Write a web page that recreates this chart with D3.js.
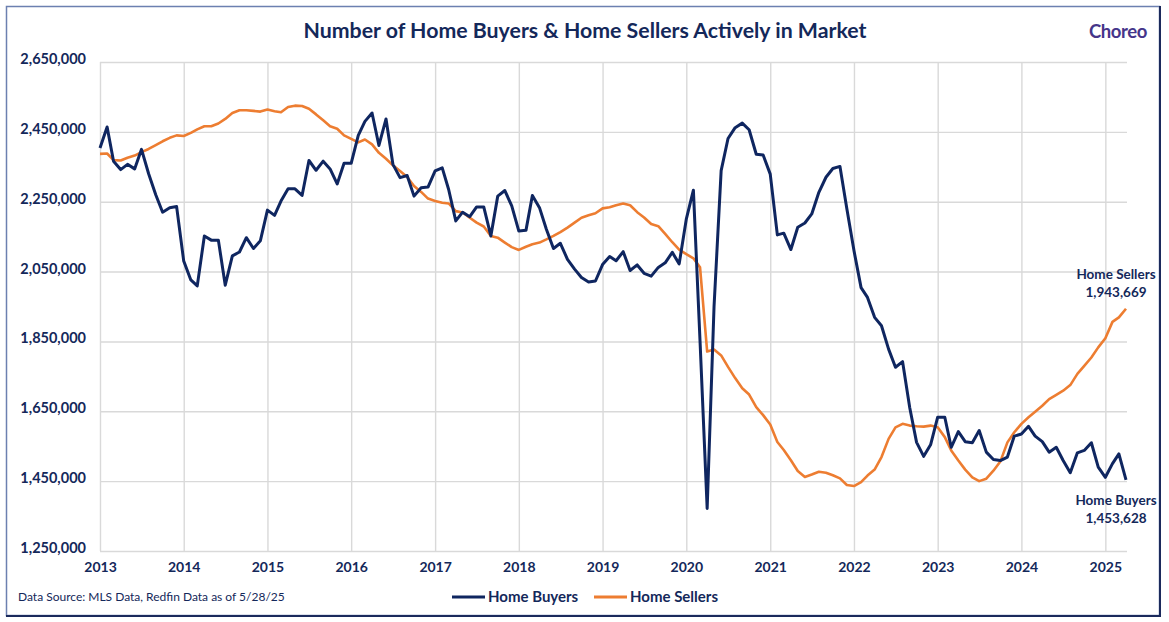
<!DOCTYPE html>
<html>
<head>
<meta charset="utf-8">
<script src="https://cdn.jsdelivr.net/npm/d3@7"></script>
<style>
  html, body { margin: 0; padding: 0; background: #ffffff; }
  svg { display: block; font-family: Lato, "Open Sans", sans-serif; }
</style>
</head>
<body>
<svg id="chart" width="1169" height="622"></svg>
<script>
// ---- Data (monthly, Jan 2013 – Apr 2025) ----
const startMonth = "2013-01";
const endMonth = "2025-04";

const homeBuyers = [
  2404000, 2464000, 2366000, 2342000, 2357000, 2344000, 2400000, 2330000, 2270000, 2220000, 2233000, 2236000,
  2080000, 2026000, 2009000, 2152000, 2140000, 2140000, 2011000, 2095000, 2106000, 2147000, 2116000, 2138000,
  2226000, 2211000, 2252000, 2287000, 2287000, 2268000, 2368000, 2340000, 2366000, 2344000, 2301000, 2360000,
  2360000, 2440000, 2480000, 2504000, 2411000, 2487000, 2357000, 2319000, 2325000, 2266000, 2290000, 2292000,
  2338000, 2347000, 2285000, 2195000, 2220000, 2207000, 2235000, 2235000, 2152000, 2266000, 2282000, 2238000,
  2166000, 2168000, 2268000, 2233000, 2171000, 2116000, 2131000, 2085000, 2057000, 2033000, 2020000, 2023000,
  2070000, 2093000, 2081000, 2107000, 2053000, 2069000, 2045000, 2037000, 2062000, 2075000, 2105000, 2072000,
  2200000, 2283000, 1850000, 1372000, 1950000, 2339000, 2431000, 2462000, 2475000, 2456000, 2386000, 2384000,
  2329000, 2155000, 2160000, 2113000, 2177000, 2189000, 2215000, 2277000, 2320000, 2345000, 2351000, 2230000,
  2110000, 2004000, 1976000, 1919000, 1895000, 1828000, 1776000, 1792000, 1661000, 1561000, 1521000, 1554000,
  1633000, 1633000, 1547000, 1592000, 1563000, 1560000, 1595000, 1533000, 1512000, 1509000, 1519000, 1579000,
  1585000, 1607000, 1579000, 1563000, 1533000, 1547000, 1509000, 1474000, 1531000, 1538000, 1560000, 1490000,
  1461000, 1500000, 1528000, 1453628
];

const homeSellers = [
  2387000, 2388000, 2369000, 2368000, 2376000, 2382000, 2392000, 2401000, 2412000, 2423000, 2433000, 2440000,
  2438000, 2447000, 2457000, 2466000, 2466000, 2474000, 2487000, 2504000, 2512000, 2512000, 2510000, 2508000,
  2514000, 2509000, 2506000, 2521000, 2525000, 2524000, 2516000, 2500000, 2483000, 2466000, 2459000, 2440000,
  2430000, 2420000, 2428000, 2414000, 2390000, 2373000, 2354000, 2338000, 2321000, 2295000, 2278000, 2259000,
  2252000, 2247000, 2245000, 2223000, 2219000, 2204000, 2190000, 2179000, 2152000, 2147000, 2133000, 2120000,
  2112000, 2121000, 2128000, 2133000, 2142000, 2152000, 2163000, 2176000, 2190000, 2204000, 2211000, 2217000,
  2231000, 2234000, 2240000, 2245000, 2240000, 2220000, 2205000, 2186000, 2180000, 2158000, 2134000, 2113000,
  2100000, 2088000, 2062000, 1821000, 1827000, 1810000, 1777000, 1745000, 1716000, 1698000, 1662000, 1639000,
  1612000, 1562000, 1539000, 1510000, 1479000, 1462000, 1469000, 1477000, 1474000, 1467000, 1458000, 1439000,
  1436000, 1447000, 1466000, 1483000, 1519000, 1571000, 1604000, 1614000, 1609000, 1607000, 1606000, 1609000,
  1604000, 1576000, 1538000, 1509000, 1483000, 1461000, 1450000, 1457000, 1480000, 1506000, 1561000, 1590000,
  1614000, 1633000, 1649000, 1666000, 1685000, 1697000, 1709000, 1725000, 1757000, 1780000, 1804000, 1833000,
  1859000, 1906000, 1919000, 1943669
];

const yTickValues = [1250000, 1450000, 1650000, 1850000, 2050000, 2250000, 2450000, 2650000];
const xTickYears = [2013, 2014, 2015, 2016, 2017, 2018, 2019, 2020, 2021, 2022, 2023, 2024, 2025];
const seriesNames = ["Home Buyers", "Home Sellers"];

const titleText = "Number of Home Buyers & Home Sellers Actively in Market";
const sourceText = "Data Source: MLS Data, Redfin Data as of 5/28/25";
const logoText = "Choreo";

// ---- Setup ----
const navy = "#0f2660";
const textNavy = "#14285a";
const orange = "#ed7d31";
const gridColor = "#d9d9d9";

const parseMonth = d3.timeParse("%Y-%m");
const months = d3.timeMonth.range(parseMonth(startMonth), d3.timeMonth.offset(parseMonth(endMonth), 1));

const svg = d3.select("#chart");
const plotLeft = 100, plotRight = 1126, plotTop = 62, plotBottom = 551;

const x = d3.scaleTime().domain([parseMonth(startMonth), parseMonth(endMonth)]).range([plotLeft, plotRight]);
const y = d3.scaleLinear().domain([1250000, 2650000]).range([plotBottom, plotTop]);

// Frame
svg.append("rect").attr("x", 6.5).attr("y", 6.5).attr("width", 1153).attr("height", 609)
  .attr("fill", "#fff").attr("stroke", "#6c80b0").attr("stroke-width", 1.5);
svg.append("line").attr("x1", 1160).attr("x2", 1160).attr("y1", 6).attr("y2", 617)
  .attr("stroke", "#1b2a5c").attr("stroke-width", 2);
svg.append("line").attr("x1", 6).attr("x2", 1161).attr("y1", 616).attr("y2", 616)
  .attr("stroke", "#1b2a5c").attr("stroke-width", 2);

// Gridlines horizontal
const gy = svg.append("g").attr("transform", `translate(${plotLeft},0)`)
  .call(d3.axisLeft(y).tickValues(yTickValues).tickSize(-(plotRight - plotLeft + 1)).tickFormat(""));
gy.select(".domain").remove();
gy.selectAll(".tick line").attr("stroke", gridColor).attr("stroke-width", 1.4);

// Gridlines vertical
const gx = svg.append("g").attr("transform", `translate(0,${plotBottom})`)
  .call(d3.axisBottom(x).tickValues(xTickYears.map(yr => new Date(yr, 0, 1)))
    .tickSize(-(plotBottom - plotTop)).tickFormat(""));
gx.select(".domain").remove();
gx.selectAll(".tick line").attr("stroke", gridColor).attr("stroke-width", 1.4);

// Y labels
const yl = svg.append("g").attr("transform", `translate(${plotLeft},0)`)
  .call(d3.axisLeft(y).tickValues(yTickValues).tickSize(0).tickPadding(14).tickFormat(d3.format(",")));
yl.select(".domain").remove();
yl.selectAll("text").attr("fill", textNavy).attr("font-size", "14.5px").attr("font-weight", "700")
  .attr("font-family", "Lato, sans-serif").attr("dy", "0.1em");

// X labels
const xl = svg.append("g").attr("transform", `translate(0,${plotBottom})`)
  .call(d3.axisBottom(x).tickValues(xTickYears.map(yr => new Date(yr, 0, 1))).tickSize(0).tickPadding(11)
    .tickFormat(d3.timeFormat("%Y")));
xl.select(".domain").remove();
xl.selectAll("text").attr("fill", textNavy).attr("font-size", "14px").attr("font-weight", "700")
  .attr("font-family", "Lato, sans-serif");

// Lines
const line = d3.line().x((d, i) => x(months[i])).y(d => y(d)).curve(d3.curveLinear);
svg.append("path").datum(homeSellers).attr("d", line).attr("fill", "none")
  .attr("stroke", orange).attr("stroke-width", 2.6).attr("stroke-linejoin", "round");
svg.append("path").datum(homeBuyers).attr("d", line).attr("fill", "none")
  .attr("stroke", navy).attr("stroke-width", 3).attr("stroke-linejoin", "round");

// Title
svg.append("text").attr("x", 585).attr("y", 38).attr("text-anchor", "middle")
  .attr("fill", textNavy).attr("font-size", "21.3px").attr("font-weight", "700").text(titleText);

// Logo
svg.append("text").attr("x", 1118).attr("y", 38).attr("text-anchor", "middle")
  .attr("fill", "#45358a").attr("font-size", "18.5px").attr("font-weight", "700")
  .attr("letter-spacing", "-0.4px").text(logoText);

// End labels
const fmt = d3.format(",");
const lastIdx = homeSellers.length - 1;
const annot = svg.append("g").attr("fill", textNavy).attr("font-size", "13.5px").attr("font-weight", "700")
  .attr("text-anchor", "middle");
annot.append("text").attr("x", 1116).attr("y", 279).text(seriesNames[1]);
annot.append("text").attr("x", 1116).attr("y", 297).text(fmt(homeSellers[lastIdx]));
annot.append("text").attr("x", 1116).attr("y", 505).text(seriesNames[0]);
annot.append("text").attr("x", 1116).attr("y", 523).text(fmt(homeBuyers[lastIdx]));

// Source
svg.append("text").attr("x", 18).attr("y", 601).attr("fill", textNavy)
  .attr("font-size", "12px").text(sourceText);

// Legend
const legend = svg.append("g");
const legendItems = [
  { name: seriesNames[0], color: navy, x: 452 },
  { name: seriesNames[1], color: orange, x: 594 }
];
legendItems.forEach(it => {
  legend.append("line").attr("x1", it.x).attr("x2", it.x + 33).attr("y1", 597).attr("y2", 597)
    .attr("stroke", it.color).attr("stroke-width", 3);
  legend.append("text").attr("x", it.x + 36).attr("y", 602).attr("fill", textNavy)
    .attr("font-size", "15px").attr("font-weight", "700").text(it.name);
});
</script>
</body>
</html>
